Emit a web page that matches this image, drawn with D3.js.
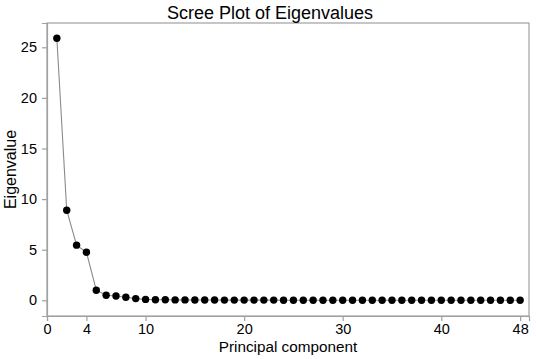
<!DOCTYPE html>
<html>
<head>
<meta charset="utf-8">
<script src="https://cdn.jsdelivr.net/npm/d3@7"></script>
<style>
  body { margin: 0; background: #fff; }
  text { font-family: "Liberation Sans", Arial, sans-serif; fill: #000; }
</style>
</head>
<body>
<div id="chart"></div>
<script>
// eigenvalues, components 1..48
var components = d3.range(1, 49);
var eigenvalues = [25.9, 8.9, 5.45, 4.75, 1.0, 0.5, 0.42, 0.3, 0.17, 0.09,
    0.06, 0.05, 0.04, 0.04, 0.03, 0.03, 0.03, 0.02, 0.02, 0.02,
    0.02, 0.02, 0.02, 0.01, 0.01, 0.01, 0.01, 0.01, 0.01, 0.01,
    0.01, 0.01, 0.01, 0.01, 0.01, 0.0, 0.0, 0.0, 0.0, 0.0,
    0.0, 0.0, 0.0, 0.0, 0.0, 0.0, 0.0, 0.0];
var xTicks = [0, 4, 10, 20, 30, 40, 48];
var yTicks = [0, 5, 10, 15, 20, 25];

var width = 536, height = 359;
var margin = {top: 23, right: 7, bottom: 43, left: 47};

var svg = d3.select("#chart").append("svg")
    .attr("width", width)
    .attr("height", height);

var x = d3.scaleLinear().domain([0, 48.9]).range([margin.left, width - margin.right]);
var y = d3.scaleLinear().domain([-1.55, 27.4]).range([height - margin.bottom, margin.top]);

// frame
svg.append("rect")
    .attr("x", margin.left)
    .attr("y", margin.top)
    .attr("width", width - margin.left - margin.right)
    .attr("height", height - margin.top - margin.bottom)
    .attr("fill", "none")
    .attr("stroke", "#a0a0a0")
    .attr("stroke-width", 1.2);

var xAxis = svg.append("g")
    .attr("transform", "translate(0," + (height - margin.bottom) + ")")
    .call(d3.axisBottom(x).tickValues(xTicks).tickSize(5).tickPadding(3).tickFormat(d3.format("d")));

var yAxis = svg.append("g")
    .attr("transform", "translate(" + margin.left + ",0)")
    .call(d3.axisLeft(y).tickValues(yTicks).tickSize(5).tickPadding(5).tickFormat(d3.format("d")));

[xAxis, yAxis].forEach(function(a) {
    a.select(".domain").attr("stroke", "#a0a0a0").attr("stroke-width", 1.2);
    a.selectAll(".tick line").attr("stroke", "#a0a0a0").attr("stroke-width", 1.2);
    a.selectAll(".tick text").style("font-size", "14.5px").style("font-family", "Liberation Sans, Arial, sans-serif").attr("fill", "#000");
});

var points = components.map(function(c, i) { return [c, eigenvalues[i]]; });

svg.append("path")
    .datum(points)
    .attr("fill", "none")
    .attr("stroke", "#8a8a8a")
    .attr("stroke-width", 1.1)
    .attr("d", d3.line().x(function(d) { return x(d[0]); }).y(function(d) { return y(d[1]); }));

svg.selectAll("circle.pt")
    .data(points)
    .enter().append("circle")
    .attr("class", "pt")
    .attr("cx", function(d) { return x(d[0]); })
    .attr("cy", function(d) { return y(d[1]); })
    .attr("r", 3.7)
    .attr("fill", "#000");

svg.append("text")
    .attr("x", 270)
    .attr("y", 19)
    .attr("text-anchor", "middle")
    .style("font-size", "18px")
    .text("Scree Plot of Eigenvalues");

svg.append("text")
    .attr("x", (margin.left + width - margin.right) / 2)
    .attr("y", 352)
    .attr("text-anchor", "middle")
    .style("font-size", "15.3px")
    .text("Principal component");

svg.append("text")
    .attr("transform", "translate(16," + ((margin.top + height - margin.bottom) / 2) + ") rotate(-90)")
    .attr("text-anchor", "middle")
    .style("font-size", "16px")
    .text("Eigenvalue");
</script>
</body>
</html>
